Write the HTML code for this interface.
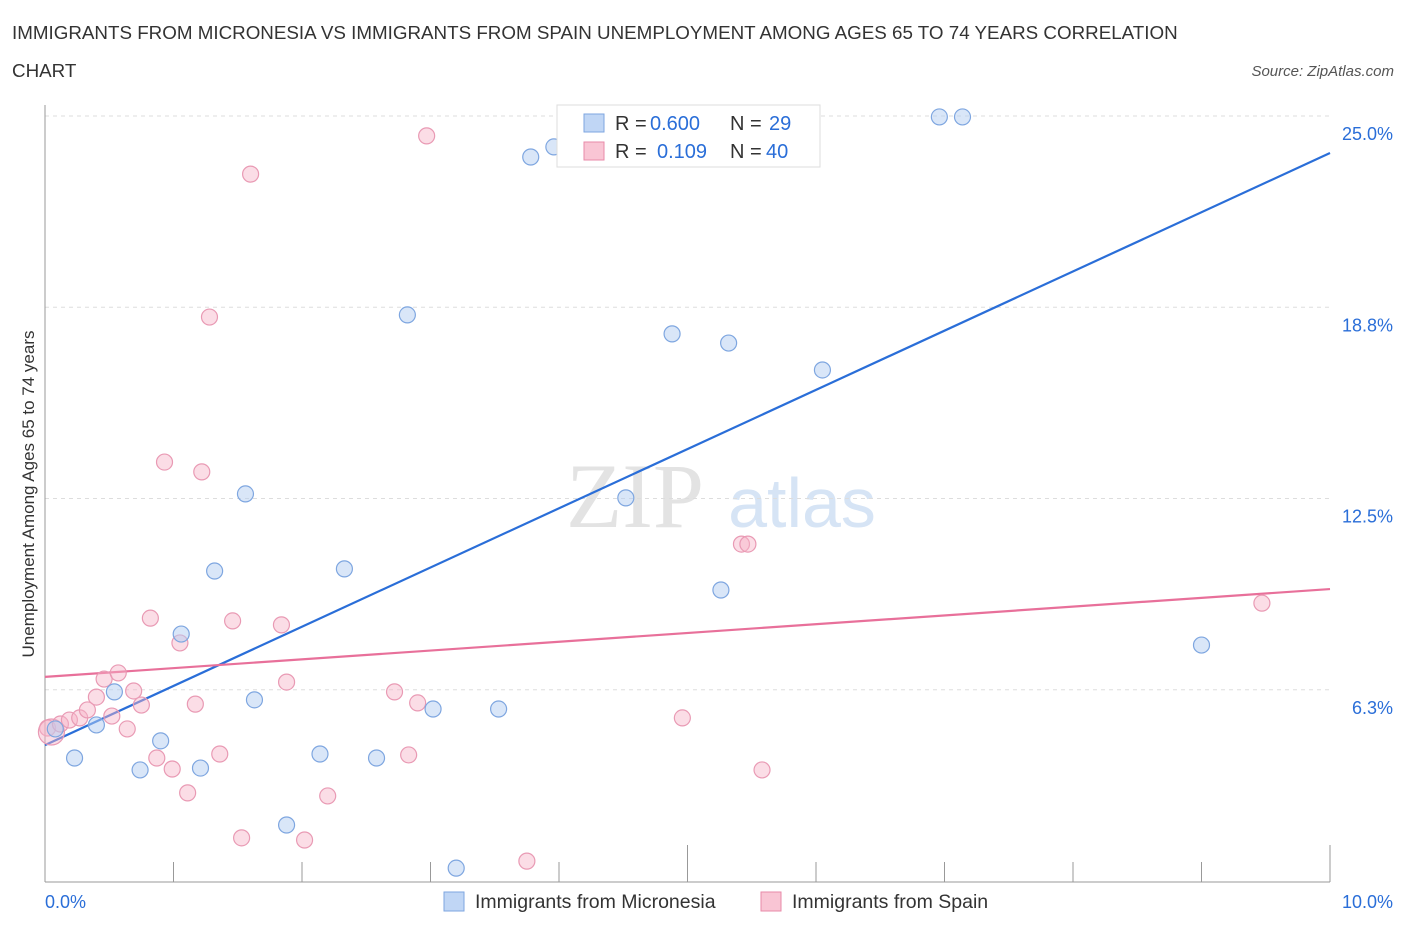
<!DOCTYPE html>
<html><head><meta charset="utf-8">
<style>
body{margin:0;background:#fff;font-family:"Liberation Sans",sans-serif;}
svg text{font-family:"Liberation Sans",sans-serif;}
</style></head>
<body>
<svg id="chart" width="1406" height="930">
<text x="12" y="39" font-size="18.8" fill="#333">IMMIGRANTS FROM MICRONESIA VS IMMIGRANTS FROM SPAIN UNEMPLOYMENT AMONG AGES 65 TO 74 YEARS CORRELATION</text>
<text x="12" y="77" font-size="18.8" fill="#333">CHART</text>
<text x="1394" y="76" font-size="15" fill="#555" font-style="italic" text-anchor="end">Source: ZipAtlas.com</text>
<g>
<text x="635" y="527" font-size="92" fill="#e3e3e3" font-family="Liberation Serif" text-anchor="middle" style="font-family:'Liberation Serif',serif">ZIP</text>
<text x="802" y="527" font-size="70" fill="#d6e4f5" text-anchor="middle">atlas</text>
</g>
<g id="grid"></g>
<g id="axes"></g>
<g id="trends"></g>
<g id="pts"></g>
<text transform="translate(34,494) rotate(-90)" font-size="17" fill="#333" text-anchor="middle">Unemployment Among Ages 65 to 74 years</text>
<g>
<rect x="557" y="105" width="263" height="62" fill="#fff" stroke="#ddd"/>
<rect x="584" y="114" width="20" height="18" fill="#c0d6f5" stroke="#7ea6e0"/>
<rect x="584" y="142" width="20" height="18" fill="#f9c5d4" stroke="#e88aa8"/>
<text x="615" y="130" font-size="20" fill="#333">R = <tspan fill="#2a6ed8" x="650">0.600</tspan><tspan x="730">N = </tspan><tspan fill="#2a6ed8" x="769">29</tspan></text>
<text x="615" y="158" font-size="20" fill="#333">R = <tspan fill="#2a6ed8" x="657">0.109</tspan><tspan x="730">N = </tspan><tspan fill="#2a6ed8" x="766">40</tspan></text>
</g>
<g>
<rect x="444" y="892" width="20" height="19" fill="#c0d6f5" stroke="#7ea6e0"/>
<text x="475" y="908" font-size="19.5" fill="#333">Immigrants from Micronesia</text>
<rect x="761" y="892" width="20" height="19" fill="#f9c5d4" stroke="#e88aa8"/>
<text x="792" y="908" font-size="19.5" fill="#333">Immigrants from Spain</text>
</g>
</svg>
<script>
const yTicks=[6.25,12.5,18.75,25];
const yTickLabels=["6.3%","12.5%","18.8%","25.0%"];
const xTicks=[0,1,2,3,4,5,6,7,8,9,10];
const blueX=[0.08,0.23,0.40,0.54,0.74,0.90,1.06,1.21,1.32,1.56,1.63,1.88,2.14,2.33,2.58,2.82,3.02,3.20,3.53,3.78,3.96,4.52,4.88,5.26,5.32,6.05,6.96,7.14,9.00];
const blueY=[4.97,4.02,5.10,6.18,3.63,4.58,8.07,3.69,10.13,12.65,5.92,1.83,4.15,10.20,4.02,18.50,5.62,0.42,5.62,23.66,23.99,12.52,17.88,9.51,17.58,16.70,24.97,24.97,7.71];
const pinkX=[0.02,0.05,0.12,0.19,0.27,0.33,0.40,0.46,0.52,0.57,0.64,0.69,0.75,0.82,0.87,0.93,0.99,1.05,1.11,1.17,1.22,1.28,1.36,1.46,1.53,1.60,1.84,1.88,2.02,2.20,2.72,2.83,2.90,2.97,3.75,4.96,5.42,5.47,5.58,9.47];
const pinkY=[5.0,4.87,5.13,5.26,5.33,5.59,6.01,6.60,5.39,6.80,4.97,6.21,5.75,8.59,4.02,13.69,3.66,7.78,2.88,5.78,13.37,18.43,4.15,8.50,1.41,23.10,8.37,6.50,1.34,2.78,6.18,4.12,5.82,24.35,0.65,5.33,11.01,11.01,3.63,9.08];
const blueTrend=[4.44,23.79];
const pinkTrend=[6.67,9.54];
const NS="http://www.w3.org/2000/svg";
const X=v=>45+v*128.5, Y=v=>881-v*30.6;
function mk(tag,attrs,parent){const e=document.createElementNS(NS,tag);for(const k in attrs)e.setAttribute(k,attrs[k]);document.getElementById(parent).appendChild(e);return e;}
yTicks.forEach((t,i)=>{
 const l=mk('line',{x1:45,x2:1330,y1:Y(t),y2:Y(t),stroke:'#ddd','stroke-dasharray':'4,4'},'grid');
 
 
 const tx=mk('text',{x:1393,y:Y(t)+24,'font-size':18,fill:'#2a6ed8','text-anchor':'end'},'grid');
 tx.textContent=yTickLabels[i];
 
 
});
const ya=mk('line',{x1:45,x2:45,y1:105,y2:882,stroke:'#999'},'axes');


const xa=mk('line',{x1:45,x2:1330,y1:882,y2:882,stroke:'#999'},'axes');


xTicks.forEach(t=>{
 const l=mk('line',{x1:X(t),x2:X(t),y1:882,y2:t%5===0?845:862,stroke:'#999'},'axes');
 
 
});
const xl0=mk('text',{x:45,y:908,'font-size':18,fill:'#2a6ed8'},'axes');xl0.textContent='0.0%';


const xl1=mk('text',{x:1393,y:908,'font-size':18,fill:'#2a6ed8','text-anchor':'end'},'axes');xl1.textContent='10.0%';


const bt=mk('line',{x1:X(0),x2:X(10),y1:Y(blueTrend[0]),y2:Y(blueTrend[1]),stroke:'#2a6ed8','stroke-width':2.2},'trends');


const pt=mk('line',{x1:X(0),x2:X(10),y1:Y(pinkTrend[0]),y2:Y(pinkTrend[1]),stroke:'#e8709a','stroke-width':2.2},'trends');


pinkX.forEach((x,i)=>{
 const c=mk('circle',{cx:X(x),cy:Y(pinkY[i]),r:i===1?13:8,fill:'rgba(246,180,200,0.45)',stroke:'#e99ab4','stroke-width':1.2},'pts');
 
 
});
blueX.forEach((x,i)=>{
 const c=mk('circle',{cx:X(x),cy:Y(blueY[i]),r:8,fill:'rgba(180,205,242,0.5)',stroke:'#7ea6e0','stroke-width':1.2},'pts');
 
 
});
</script>
</body></html>
